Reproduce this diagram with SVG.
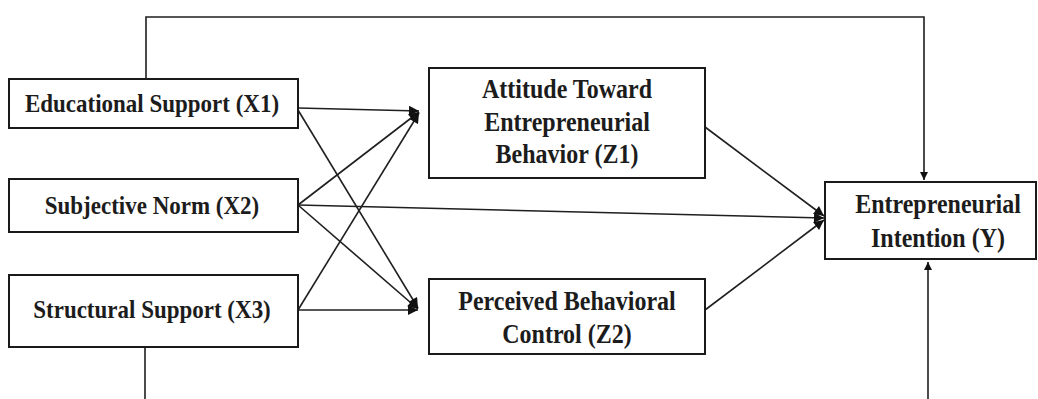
<svg xmlns="http://www.w3.org/2000/svg" width="1038" height="399" viewBox="0 0 1038 399">
  <style>
    .box { fill: #ffffff; stroke: #1a1a1a; stroke-width: 2; }
    .lbl { font-family: "Liberation Serif", "Times New Roman", serif; font-weight: bold; fill: #1c1c1c; text-anchor: middle; }
    .x { font-size: 23px; }
    .z { font-size: 24px; }
    .edge { fill: none; stroke: #1f1f1f; stroke-width: 1.6; }
  </style>
  <defs>
    <marker id="arrow" viewBox="0 0 10 10" refX="10" refY="5" markerWidth="11" markerHeight="10" markerUnits="userSpaceOnUse" orient="auto">
      <path d="M0,0 L10,5 L0,10 z" fill="#111111"/>
    </marker>
    <marker id="arrowThin" viewBox="0 0 10 10" refX="10" refY="5" markerWidth="12" markerHeight="8" markerUnits="userSpaceOnUse" orient="auto">
      <path d="M0,0 L10,5 L0,10 z" fill="#111111"/>
    </marker>
  </defs>

  <rect width="1038" height="399" fill="#ffffff"/>

  <!-- connectors -->
  <g id="connectors">
    <!-- X1 direct path over the top to Y -->
    <polyline class="edge" points="146,79 146,17 924,17 924,180" marker-end="url(#arrowThin)"/>
    <!-- X3 direct path along the bottom to Y -->
    <line class="edge" x1="145" y1="347" x2="145" y2="399"/>
    <line class="edge" x1="928" y1="399" x2="928" y2="262" marker-end="url(#arrowThin)"/>

    <!-- into Z1 -->
    <line class="edge" x1="298" y1="108" x2="419" y2="111" marker-end="url(#arrow)"/>
    <line class="edge" x1="298" y1="205" x2="419" y2="112" marker-end="url(#arrow)"/>
    <line class="edge" x1="298" y1="310" x2="419" y2="113" marker-end="url(#arrow)"/>

    <!-- into Z2 -->
    <line class="edge" x1="298" y1="110" x2="418" y2="308" marker-end="url(#arrow)"/>
    <line class="edge" x1="298" y1="205" x2="418" y2="309" marker-end="url(#arrow)"/>
    <line class="edge" x1="298" y1="310" x2="418" y2="310" marker-end="url(#arrow)"/>

    <!-- into Y -->
    <line class="edge" x1="705" y1="127" x2="824" y2="216" marker-end="url(#arrow)"/>
    <line class="edge" x1="298" y1="205" x2="824" y2="218" marker-end="url(#arrow)"/>
    <line class="edge" x1="705" y1="310" x2="824" y2="220" marker-end="url(#arrow)"/>
  </g>

  <!-- nodes: labels are set in a slightly tall serif, so each line is stretched vertically about its baseline -->
  <g id="x1">
    <rect class="box" x="9" y="79" width="289" height="49"/>
    <text class="lbl x" transform="translate(152,112) scale(1,1.12)">Educational Support (X1)</text>
  </g>
  <g id="x2">
    <rect class="box" x="9" y="179" width="289" height="53"/>
    <text class="lbl x" transform="translate(152,214) scale(1,1.12)">Subjective Norm (X2)</text>
  </g>
  <g id="x3">
    <rect class="box" x="9" y="275" width="289" height="72"/>
    <text class="lbl x" transform="translate(152,318) scale(1,1.12)">Structural Support (X3)</text>
  </g>
  <g id="z1">
    <rect class="box" x="429" y="68" width="276" height="110"/>
    <text class="lbl z" transform="translate(567,98) scale(1,1.12)">Attitude Toward</text>
    <text class="lbl z" transform="translate(567,131) scale(1,1.12)">Entrepreneurial</text>
    <text class="lbl z" transform="translate(567,163) scale(1,1.12)">Behavior (Z1)</text>
  </g>
  <g id="z2">
    <rect class="box" x="429" y="279" width="276" height="75"/>
    <text class="lbl z" transform="translate(567,310) scale(1,1.12)">Perceived Behavioral</text>
    <text class="lbl z" transform="translate(567,343) scale(1,1.12)">Control (Z2)</text>
  </g>
  <g id="y">
    <rect class="box" x="825" y="182" width="211" height="77"/>
    <text class="lbl z" transform="translate(938,213) scale(1,1.12)">Entrepreneurial</text>
    <text class="lbl z" transform="translate(938,247) scale(1,1.12)">Intention (Y)</text>
  </g>
</svg>
